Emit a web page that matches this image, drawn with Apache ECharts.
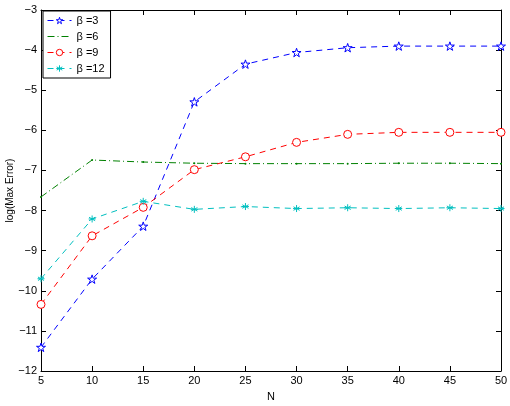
<!DOCTYPE html>
<html>
<head>
<meta charset="utf-8">
<script src="https://cdn.jsdelivr.net/npm/echarts@6/dist/echarts.min.js"></script>
<style>
  html, body { margin: 0; padding: 0; background: #fff; }
  #chart { width: 510px; height: 406px; }
</style>
</head>
<body>
<div id="chart"></div>
<script>
const nValues = [5, 10, 15, 20, 25, 30, 35, 40, 45, 50];
const beta3 = [-11.41, -9.71, -8.39, -5.29, -4.35, -4.06, -3.94, -3.90, -3.90, -3.90];
const beta6 = [-7.66, -6.74, -6.79, -6.82, -6.83, -6.83, -6.83, -6.82, -6.82, -6.83];
const beta9 = [-10.34, -8.63, -7.92, -6.98, -6.66, -6.30, -6.10, -6.05, -6.05, -6.05];
const beta12 = [-9.70, -8.21, -7.77, -7.97, -7.90, -7.95, -7.93, -7.95, -7.93, -7.95];
const seriesNames = ["β =3", "β =6", "β =9", "β =12"];

const starPath = "path://M0,-1L0.225,-0.309L0.951,-0.309L0.363,0.118L0.588,0.809L0,0.382L-0.588,0.809L-0.363,0.118L-0.951,-0.309L-0.225,-0.309Z";
const asteriskPath = "path://M0,-1L0,1M-0.87,-0.5L0.87,0.5M-0.87,0.5L0.87,-0.5M-1,0L1,0";

const pairs = (ys) => nValues.map((n, i) => [n, ys[i]]);
const minus = (v) => String(v).replace("-", "\u2212");
const font = "Liberation Sans, Arial, sans-serif";

const blue = "#0000ff", green = "#008000", red = "#ff0000", cyan = "#00bfbf";
const dashed = [6, 5];
const dashDot = [7, 3, 1, 3];

const chart = echarts.init(document.getElementById("chart"));

const boxAxis = {
  axisLine: { show: true, lineStyle: { color: "#000", width: 1 } },
  axisTick: { show: true, inside: true, length: 5, lineStyle: { color: "#000" } },
  splitLine: { show: false },
};

chart.setOption({
  animation: false,
  grid: { left: 41, right: 9, top: 10, bottom: 35, containLabel: false, outerBoundsMode: "none" },
  legend: {
    orient: "vertical",
    left: 43,
    top: 11,
    backgroundColor: "#fff",
    borderColor: "#000",
    borderWidth: 1,
    borderRadius: 0,
    padding: [4, 6, 4, 4],
    itemWidth: 24,
    itemHeight: 8,
    itemGap: 5,
    textStyle: { fontFamily: font, fontSize: 11, color: "#000" },
    data: [
      { name: seriesNames[0], itemStyle: { color: "#fff", borderColor: blue, borderWidth: 1 }, lineStyle: { width: 1 } },
      { name: seriesNames[1], itemStyle: { opacity: 0 }, lineStyle: { width: 1 } },
      { name: seriesNames[2], itemStyle: { color: "#fff", borderColor: red, borderWidth: 1 }, lineStyle: { width: 1 } },
      { name: seriesNames[3], itemStyle: { color: cyan, borderColor: cyan, borderWidth: 1 }, lineStyle: { width: 1 } },
    ],
  },
  xAxis: [
    {
      ...boxAxis,
      type: "value", min: 5, max: 50, interval: 5,
      name: "N", nameLocation: "middle", nameGap: 20, nameMoveOverlap: false,
      nameTextStyle: { fontFamily: font, fontSize: 11, color: "#000" },
      axisLabel: { fontFamily: font, fontSize: 11, color: "#000", margin: 4 },
    },
    {
      ...boxAxis,
      type: "value", min: 5, max: 50, interval: 5, position: "top",
      axisLabel: { show: false },
    },
  ],
  yAxis: [
    {
      ...boxAxis,
      type: "value", min: -12, max: -3, interval: 1,
      name: "log(Max Error)", nameLocation: "middle", nameGap: 26, nameMoveOverlap: false,
      nameTextStyle: { fontFamily: font, fontSize: 10, color: "#000" },
      axisLabel: { fontFamily: font, fontSize: 11, color: "#000", margin: 4, formatter: minus },
    },
    {
      ...boxAxis,
      type: "value", min: -12, max: -3, interval: 1, position: "right",
      axisLabel: { show: false },
    },
  ],
  series: [
    {
      name: seriesNames[0], type: "line", data: pairs(beta3),
      symbol: starPath, symbolSize: 9, symbolKeepAspect: true,
      itemStyle: { color: "#fff", borderColor: blue, borderWidth: 1 },
      lineStyle: { color: blue, width: 1, type: dashed },
    },
    {
      name: seriesNames[1], type: "line", data: pairs(beta6),
      symbol: "circle", symbolSize: 2,
      itemStyle: { color: green },
      lineStyle: { color: green, width: 1, type: dashDot },
    },
    {
      name: seriesNames[2], type: "line", data: pairs(beta9),
      symbol: "circle", symbolSize: 8,
      itemStyle: { color: "#fff", borderColor: red, borderWidth: 1 },
      lineStyle: { color: red, width: 1, type: dashed },
    },
    {
      name: seriesNames[3], type: "line", data: pairs(beta12),
      symbol: asteriskPath, symbolSize: 7,
      itemStyle: { color: cyan, borderColor: cyan, borderWidth: 1 },
      lineStyle: { color: cyan, width: 1, type: dashed },
    },
  ],
});
</script>
</body>
</html>
